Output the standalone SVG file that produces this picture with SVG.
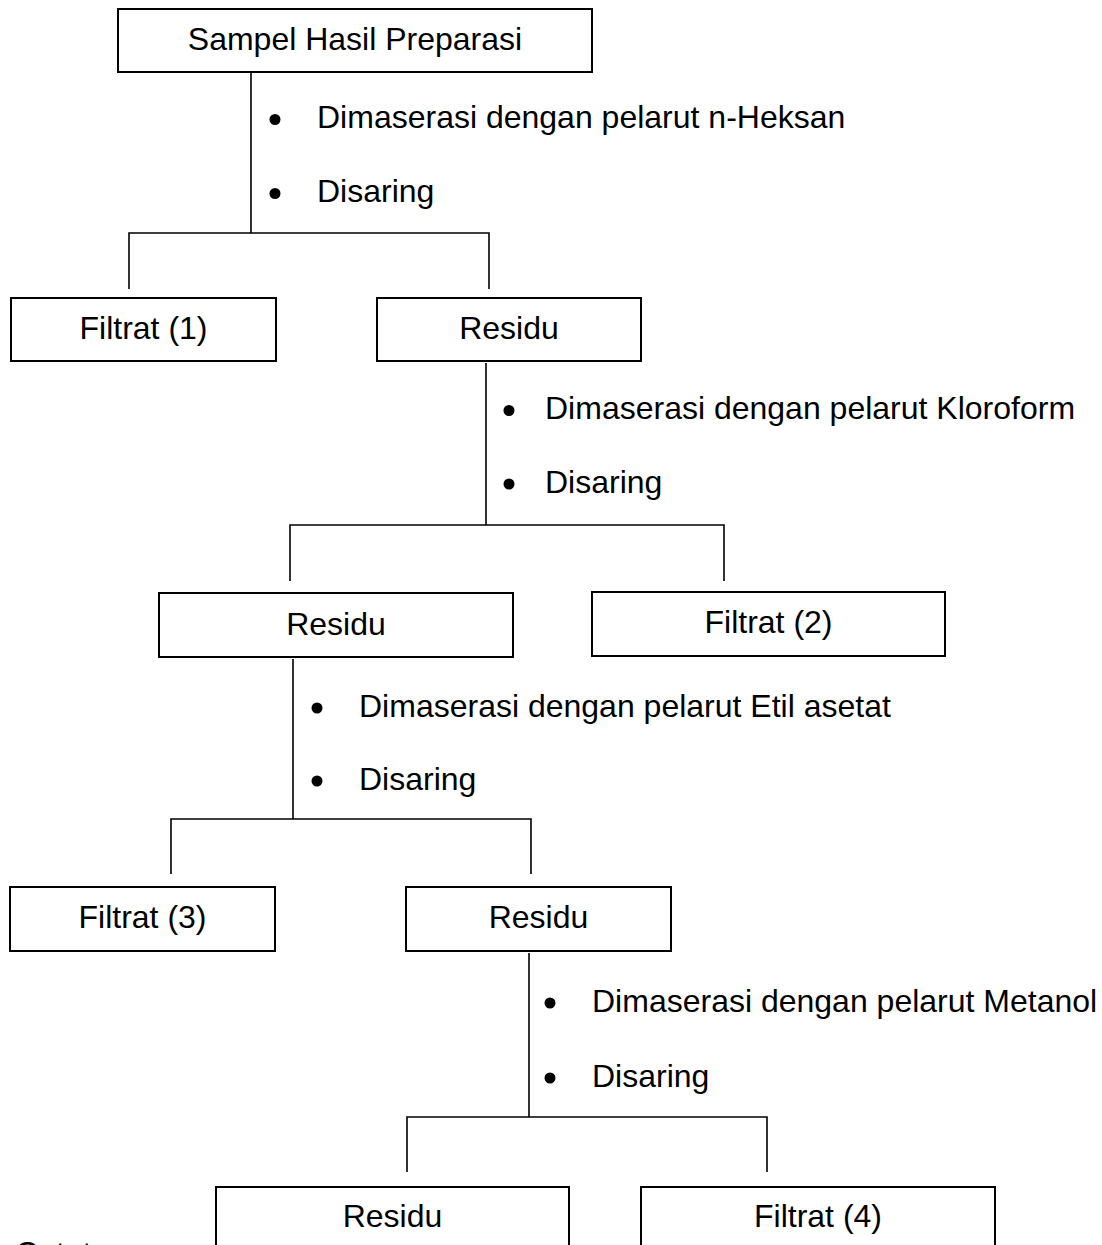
<svg xmlns="http://www.w3.org/2000/svg" width="1102" height="1245" viewBox="0 0 1102 1245">
<style>
text{font-family:"Liberation Sans",Arial,sans-serif;font-size:32px;fill:#000}
.box rect{fill:#fff;stroke:#000;stroke-width:2}
.box text{text-anchor:middle}
#connectors path{fill:none;stroke:#000;stroke-width:1.6}
.dot{fill:#000}
</style>
<rect width="1102" height="1245" fill="#fff"/>
<g id="connectors">
<path d="M251 73V233M129 289V233H489V289"/>
<path d="M486 363V525M290 581V525H724V581"/>
<path d="M293 659V819M171 874V819H531V874"/>
<path d="M529 953V1117M407 1172V1117H767V1172"/>
</g>
<g id="steps1">
<circle class="dot" cx="275" cy="119.5" r="5.5"/><text x="317" y="128">Dimaserasi dengan pelarut n-Heksan</text>
<circle class="dot" cx="275" cy="193.5" r="5.5"/><text x="317" y="202">Disaring</text>
</g>
<g id="steps2">
<circle class="dot" cx="509" cy="410.5" r="5.5"/><text x="545" y="419">Dimaserasi dengan pelarut Kloroform</text>
<circle class="dot" cx="509" cy="484" r="5.5"/><text x="545" y="493">Disaring</text>
</g>
<g id="steps3">
<circle class="dot" cx="317" cy="708" r="5.5"/><text x="359" y="717">Dimaserasi dengan pelarut Etil asetat</text>
<circle class="dot" cx="317" cy="781" r="5.5"/><text x="359" y="790">Disaring</text>
</g>
<g id="steps4">
<circle class="dot" cx="550" cy="1003" r="5.5"/><text x="592" y="1012">Dimaserasi dengan pelarut Metanol</text>
<circle class="dot" cx="550" cy="1078" r="5.5"/><text x="592" y="1087">Disaring</text>
</g>
<g id="sampel" class="box"><rect x="118" y="9" width="474" height="63"/><text x="355" y="50">Sampel Hasil Preparasi</text></g>
<g id="filtrat1" class="box"><rect x="11" y="298" width="265" height="63"/><text x="143.5" y="339">Filtrat (1)</text></g>
<g id="residu1" class="box"><rect x="377" y="298" width="264" height="63"/><text x="509" y="339">Residu</text></g>
<g id="residu2" class="box"><rect x="159" y="593" width="354" height="64"/><text x="336" y="635">Residu</text></g>
<g id="filtrat2" class="box"><rect x="592" y="592" width="353" height="64"/><text x="768.5" y="633">Filtrat (2)</text></g>
<g id="filtrat3" class="box"><rect x="10" y="887" width="265" height="64"/><text x="142.5" y="928">Filtrat (3)</text></g>
<g id="residu3" class="box"><rect x="406" y="887" width="265" height="64"/><text x="538.5" y="928">Residu</text></g>
<g id="residu4" class="box"><rect x="216" y="1187" width="353" height="64"/><text x="392.5" y="1227">Residu</text></g>
<g id="filtrat4" class="box"><rect x="641" y="1187" width="354" height="64"/><text x="818" y="1227">Filtrat (4)</text></g>
<text x="15" y="1264">Catatan:</text>
</svg>
